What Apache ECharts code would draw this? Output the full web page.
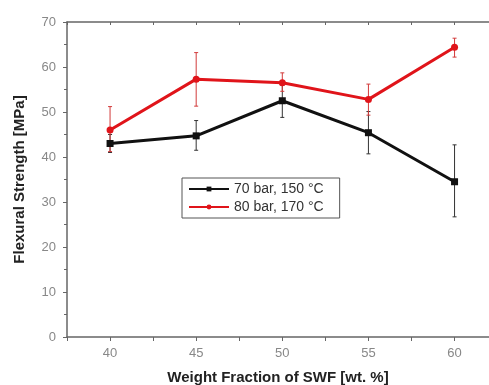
<!DOCTYPE html>
<html>
<head>
<meta charset="utf-8">
<script src="https://cdn.jsdelivr.net/npm/echarts@6/dist/echarts.min.js"></script>
<style>
  html, body { margin: 0; padding: 0; background: #fff; }
  #chart { width: 489px; height: 385px; }
</style>
</head>
<body>
<div id="chart"></div>
<script>
// weight fraction of SWF [wt. %]
var fractions = [40, 45, 50, 55, 60];
// 70 bar, 150 °C
var black = [43.0, 44.7, 52.5, 45.4, 34.5];
var blackLow = [41.0, 41.5, 48.8, 40.7, 26.7];
var blackHigh = [45.0, 48.1, 56.0, 50.1, 42.7];
// 80 bar, 170 °C
var red = [46.0, 57.3, 56.5, 52.8, 64.4];
var redLow = [41.2, 51.3, 54.6, 49.3, 62.2];
var redHigh = [51.2, 63.2, 58.7, 56.2, 66.4];
var yTicks = [0, 10, 20, 30, 40, 50, 60, 70];

var chart = echarts.init(document.getElementById("chart"));
var font = "Liberation Sans, Arial, sans-serif";

function pairs(xs, ys) {
  return xs.map(function (x, i) { return [x, ys[i]]; });
}
function errData(xs, lo, hi) {
  return xs.map(function (x, i) { return [x, lo[i], hi[i]]; });
}
// vertical error bar with small caps
function renderErr(color) {
  return function (params, api) {
    var top = api.coord([api.value(0), api.value(2)]);
    var bot = api.coord([api.value(0), api.value(1)]);
    var w = 2;
    var st = { stroke: color, lineWidth: 1 };
    return {
      type: "group",
      children: [
        { type: "line", shape: { x1: top[0], y1: top[1], x2: bot[0], y2: bot[1] }, style: st },
        { type: "line", shape: { x1: top[0] - w, y1: top[1], x2: top[0] + w, y2: top[1] }, style: st },
        { type: "line", shape: { x1: bot[0] - w, y1: bot[1], x2: bot[0] + w, y2: bot[1] }, style: st }
      ]
    };
  };
}

var axisGray = "#666";
var option = {
  backgroundColor: "#fff",
  animation: false,
  textStyle: { fontFamily: font },
  grid: { left: 67, top: 22, right: 0, bottom: 48, outerBoundsMode: "none" },
  legend: {
    orient: "vertical",
    left: 182,
    top: 178,
    padding: [4, 16, 4, 6],
    itemGap: 4,
    itemWidth: 40,
    itemHeight: 6,
    borderColor: "#555",
    borderWidth: 1,
    textStyle: { color: "#333", fontSize: 14, fontFamily: font },
    data: ["70 bar, 150 °C", "80 bar, 170 °C"]
  },
  xAxis: [
    {
      type: "value",
      min: 37.5,
      max: 62,
      interval: 2.5,
      name: "Weight Fraction of SWF [wt. %]",
      nameLocation: "middle",
      nameGap: 33,
      nameTextStyle: { fontWeight: "bold", fontSize: 15, color: "#222", fontFamily: font },
      axisLine: { lineStyle: { color: axisGray, width: 1.5 } },
      axisTick: { length: 4, lineStyle: { color: axisGray } },
      axisLabel: {
        color: "#888", fontSize: 13, margin: 10,
        formatter: function (v) { return v % 5 === 0 ? String(v) : ""; }
      },
      splitLine: { show: false }
    },
    {
      type: "value",
      position: "top",
      min: 37.5,
      max: 62,
      interval: 2.5,
      axisLine: { lineStyle: { color: axisGray, width: 1.5 } },
      axisTick: { inside: true, length: 3, lineStyle: { color: axisGray } },
      axisLabel: { show: false },
      splitLine: { show: false }
    }
  ],
  yAxis: {
    type: "value",
    min: yTicks[0],
    max: yTicks[yTicks.length - 1],
    interval: 10,
    name: "Flexural Strength [MPa]",
    nameLocation: "middle",
    nameGap: 40,
    nameTextStyle: { fontWeight: "bold", fontSize: 15, color: "#222", fontFamily: font },
    axisLine: { show: true, lineStyle: { color: axisGray, width: 1.5 } },
    axisTick: { show: true, length: 4, lineStyle: { color: axisGray } },
    minorTick: { show: true, splitNumber: 2, length: 3, lineStyle: { color: axisGray } },
    axisLabel: { color: "#888", fontSize: 13, margin: 11 },
    splitLine: { show: false }
  },
  series: [
    {
      name: "70 bar, 150 °C",
      type: "line",
      data: pairs(fractions, black),
      color: "#111",
      symbol: "rect",
      symbolSize: 7,
      lineStyle: { width: 3, color: "#111" },
      itemStyle: { color: "#111" },
      z: 3
    },
    {
      name: "80 bar, 170 °C",
      type: "line",
      data: pairs(fractions, red),
      color: "#e0141a",
      symbol: "circle",
      symbolSize: 7,
      lineStyle: { width: 3, color: "#e0141a" },
      itemStyle: { color: "#e0141a" },
      z: 4
    },
    {
      type: "custom",
      data: errData(fractions, blackLow, blackHigh),
      renderItem: renderErr("#333"),
      encode: { x: 0, y: [1, 2] },
      z: 2
    },
    {
      type: "custom",
      data: errData(fractions, redLow, redHigh),
      renderItem: renderErr("#d23a3a"),
      encode: { x: 0, y: [1, 2] },
      z: 2
    }
  ]
};
chart.setOption(option);
</script>
</body>
</html>
